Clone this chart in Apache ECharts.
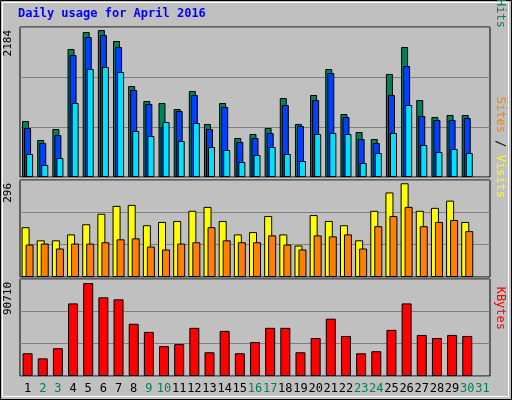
<!DOCTYPE html>
<html><head><meta charset="utf-8">
<script src="https://cdn.jsdelivr.net/npm/echarts@6/dist/echarts.min.js"></script>
<style>html,body{margin:0;padding:0;background:#c0c0c0}#c{width:512px;height:400px}</style>
</head><body><div id="c"></div>
<script>
const days = Array.from({length:31},(_,i)=>String(i+1));
const weekend = ['2','3','9','10','16','17','23','24','30','31'];
const hits  = [815,539,699,1864,2111,2140,1980,1325,1107,1077,990,1252,772,1077,568,626,713,1150,772,1194,1572,917,655,553,1500,1893,1121,874,903,903,null];
const files = [713,495,611,1776,2038,2067,1893,1267,1063,728,961,1194,699,1019,510,568,641,1048,743,1121,1514,874,553,495,1194,1616,888,830,830,859,null];
const pages = [335,175,277,1077,1572,1601,1529,670,597,801,524,786,437,393,218,320,437,335,233,626,641,626,204,349,641,1048,466,364,408,349,null];
const visits= [152,112,112,130,161,193,217,220,158,168,171,202,214,171,130,137,186,130,96,189,171,158,112,202,258,286,202,211,233,168,null];
const sites = [99,102,87,102,102,106,115,118,93,84,102,106,152,112,106,106,127,99,84,127,124,130,87,155,186,214,155,168,174,140,null];
const kbytes= [21250,16500,26000,67880,86910,73590,71690,48850,41240,27910,29820,45040,22200,42190,21250,31720,45040,45040,22200,35530,53610,37430,21250,23160,43140,67880,38380,35530,38380,37430,null];
const maxHits=2184, maxVisits=296, maxKB=90710;

const grids=[{left:20,right:22,top:27,height:150},{left:20,right:22,top:180,height:97},{left:20,right:22,top:279,height:97}];
const mono='"DejaVu Sans Mono", monospace';
function yAx(i,max){return {gridIndex:i,min:0,max:max,interval:max/3,axisLabel:{show:false},axisLine:{show:false},axisTick:{show:false},splitLine:{lineStyle:{color:'#808080',width:1}}};}
function xAx(i,show){return {gridIndex:i,type:'category',data:days,axisLine:{show:false},axisTick:{show:false},
  axisLabel:show?{show:true,interval:0,margin:7,fontFamily:mono,fontSize:12,formatter:v=>weekend.includes(v)?'{w|'+v+'}':'{d|'+v+'}',rich:{w:{color:'#00805c',fontFamily:mono,fontSize:12},d:{color:'#000',fontFamily:mono,fontSize:12}}}:{show:false}};}
const bs={borderColor:'#000',borderWidth:1};
const chart=echarts.init(document.getElementById('c'));
chart.setOption({
  animation:false,backgroundColor:'#c0c0c0',
  grid:grids.map(g=>Object.assign({show:true,backgroundColor:'#c0c0c0',borderColor:'#000',borderWidth:1},g)),
  xAxis:[xAx(0,false),xAx(1,false),xAx(2,true)],
  yAxis:[yAx(0,maxHits),yAx(1,maxVisits),yAx(2,maxKB)],
  graphic:[
    {type:'rect',shape:{x:0.5,y:0.5,width:511,height:399},style:{fill:'none',stroke:'#000',lineWidth:1}},
    {type:'rect',shape:{x:2.5,y:2.5,width:506,height:394},style:{fill:'none',stroke:'#fff',lineWidth:1}},
    {type:'text',left:18,top:8,style:{text:'Daily usage for April 2016',fill:'#0000ff',font:'bold 12px '+mono}},
    {type:'text',x:8,y:30,rotation:Math.PI/2,style:{text:'2184',fill:'#000',font:'11px '+mono,align:'right',verticalAlign:'middle'}},
    {type:'text',x:8,y:183,rotation:Math.PI/2,style:{text:'296',fill:'#000',font:'11px '+mono,align:'right',verticalAlign:'middle'}},
    {type:'text',x:8,y:282,rotation:Math.PI/2,style:{text:'90710',fill:'#000',font:'11px '+mono,align:'right',verticalAlign:'middle'}},
    {type:'text',x:500,y:28,rotation:-Math.PI/2,style:{text:'{p|Pages}{s| / }{f|Files}{s| / }{h|Hits}',align:'right',verticalAlign:'middle',
      rich:{p:{fill:'#00e0ff',font:'12px '+mono},s:{fill:'#000',font:'12px '+mono},f:{fill:'#0040ff',font:'12px '+mono},h:{fill:'#00805c',font:'12px '+mono}}}},
    {type:'text',x:500,y:198,rotation:-Math.PI/2,style:{text:'{a|Sites}{s| / }{b|Visits}',align:'right',verticalAlign:'middle',
      rich:{a:{fill:'#ff8000',font:'12px '+mono},s:{fill:'#000',font:'12px '+mono},b:{fill:'#ffff00',font:'12px '+mono}}}},
    {type:'text',x:500,y:330,rotation:-Math.PI/2,style:{text:'KBytes',fill:'#ff0000',font:'12px '+mono,align:'right',verticalAlign:'middle'}}
  ],
  series:[
    {type:'bar',xAxisIndex:0,yAxisIndex:0,data:hits,barWidth:7,barGap:'-71%',itemStyle:Object.assign({color:'#00805c'},bs)},
    {type:'bar',xAxisIndex:0,yAxisIndex:0,data:files,barWidth:7,barGap:'-71%',itemStyle:Object.assign({color:'#0040ff'},bs)},
    {type:'bar',xAxisIndex:0,yAxisIndex:0,data:pages,barWidth:7,barGap:'-71%',itemStyle:Object.assign({color:'#00e0ff'},bs)},
    {type:'bar',xAxisIndex:1,yAxisIndex:1,data:visits,barWidth:8,barGap:'-50%',itemStyle:Object.assign({color:'#ffff00'},bs)},
    {type:'bar',xAxisIndex:1,yAxisIndex:1,data:sites,barWidth:8,barGap:'-50%',itemStyle:Object.assign({color:'#ff8000'},bs)},
    {type:'bar',xAxisIndex:2,yAxisIndex:2,data:kbytes,barWidth:10,itemStyle:Object.assign({color:'#ff0000'},bs)}
  ]
});
</script></body></html>
